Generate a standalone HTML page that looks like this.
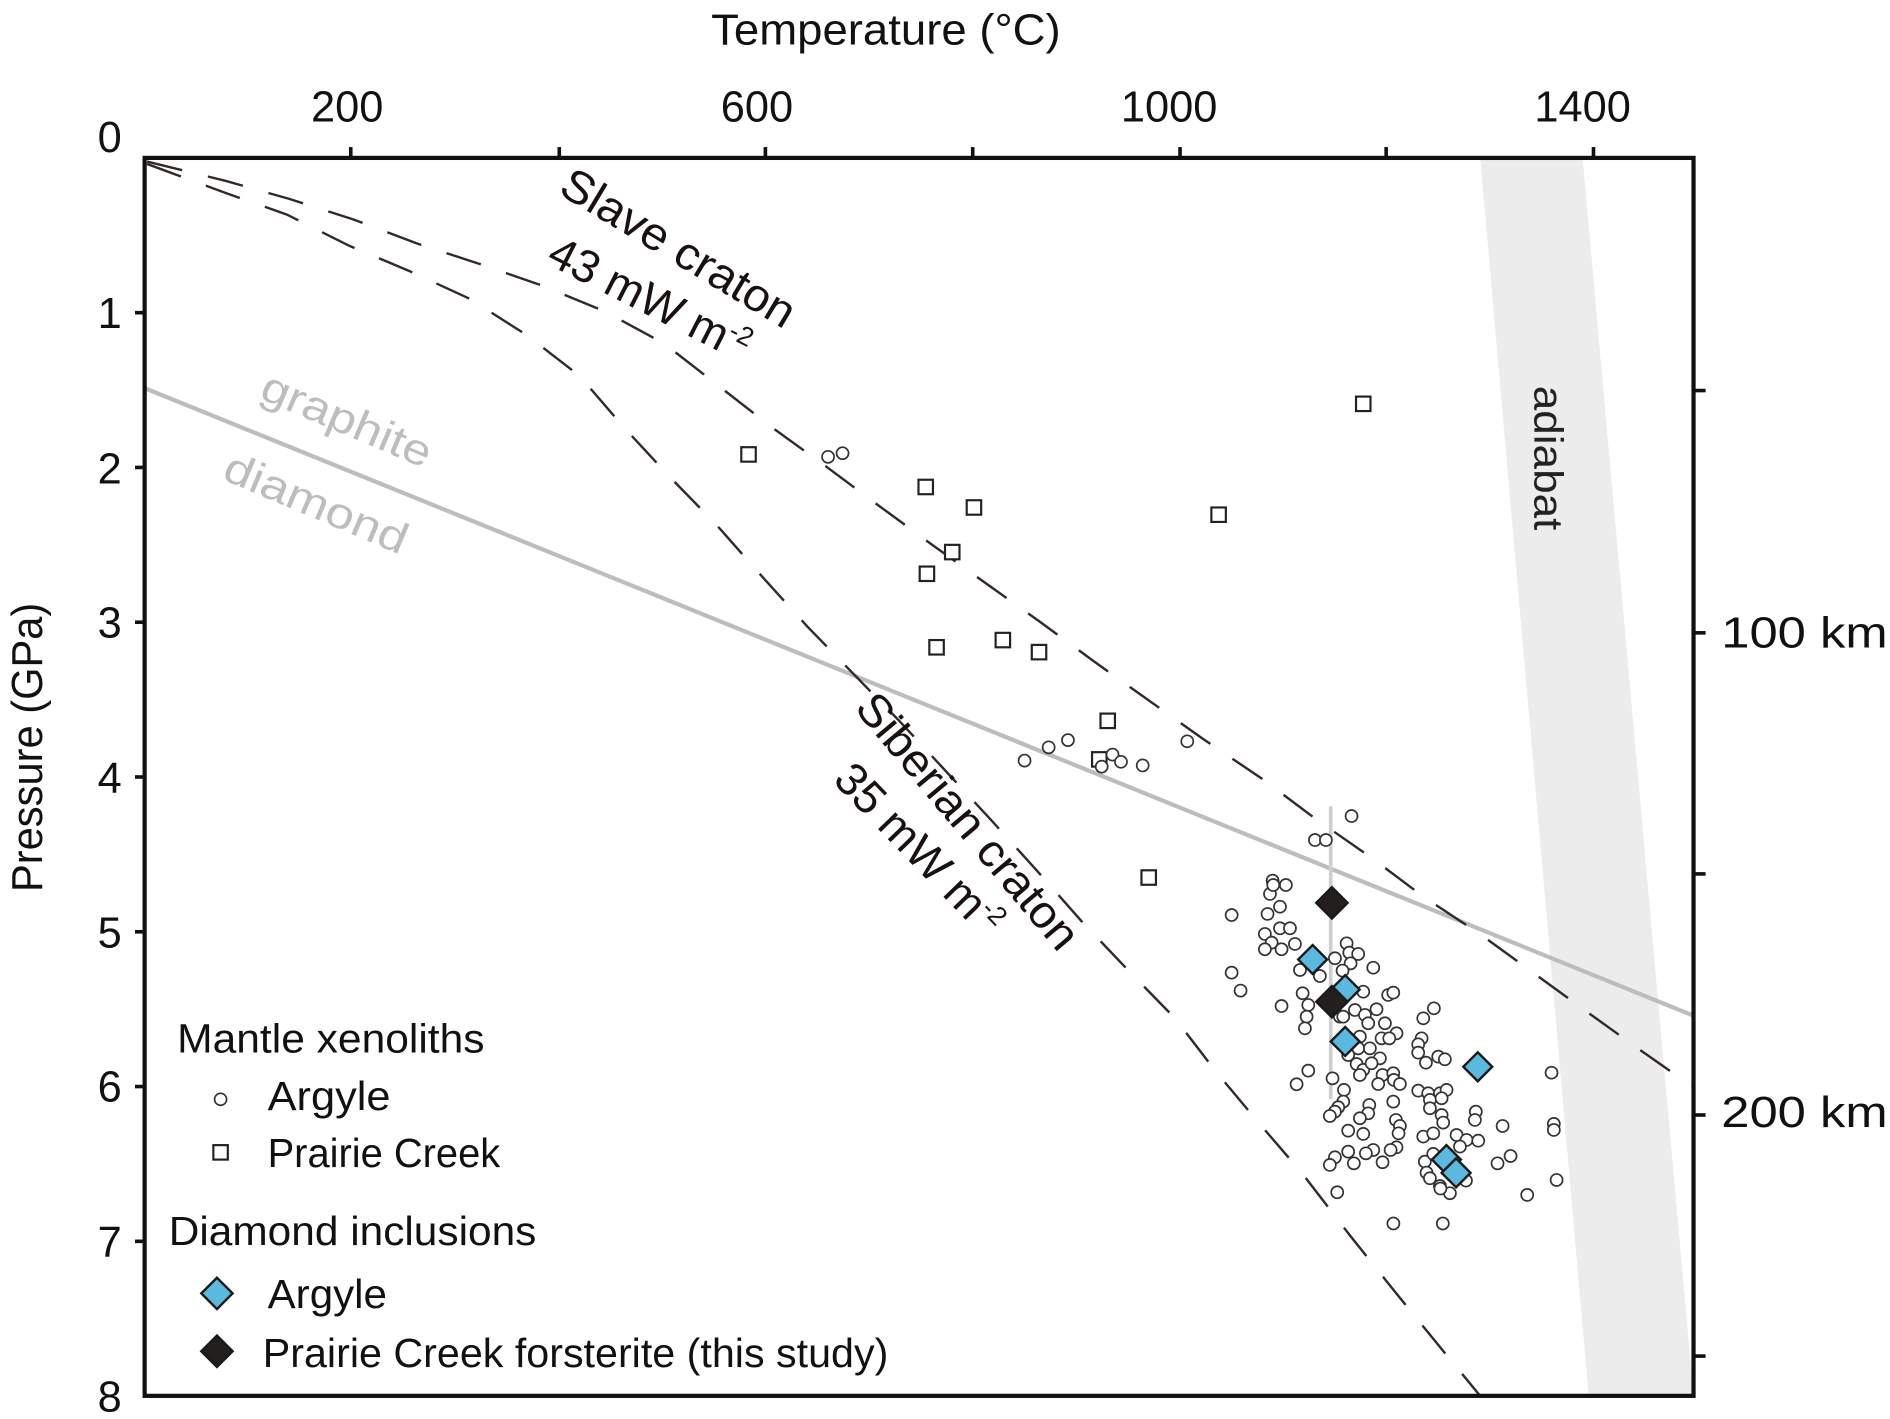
<!DOCTYPE html>
<html><head><meta charset="utf-8"><style>
html,body{margin:0;padding:0;background:#fff;}
svg{display:block;}
text{font-family:"Liberation Sans Narrow","Liberation Sans",sans-serif;}
</style></head><body>
<svg width="1890" height="1419" viewBox="0 0 1568 1177.2" preserveAspectRatio="none" xmlns="http://www.w3.org/2000/svg">
<rect x="0" y="0" width="1568" height="1178" fill="#fff"/>
<!-- adiabat band -->
<polygon points="1228,131 1313,131 1405,1158 1318,1158" fill="#ececec"/>
<text x="0" y="0" transform="translate(1273,320) rotate(90)" font-size="34" fill="#222" textLength="120" lengthAdjust="spacingAndGlyphs">adiabat</text>
<!-- graphite-diamond -->
<line x1="120" y1="322" x2="1405" y2="842.6" stroke="#bdbdbd" stroke-width="3.5"/>
<text x="0" y="0" transform="translate(214,330) rotate(23)" font-size="36" fill="#bdbdbd" textLength="150" lengthAdjust="spacingAndGlyphs">graphite</text>
<text x="0" y="0" transform="translate(183,397) rotate(23)" font-size="36" fill="#bdbdbd" textLength="162" lengthAdjust="spacingAndGlyphs">diamond</text>
<!-- dashed geotherms -->
<g fill="none" stroke="#332a28" stroke-width="2" stroke-dasharray="30 22">
<polyline points="122,134 187,150 240,165 293,182 346,202 398,219 450,237 501,258 551,285 596,320 641,355 684,386 727,418 772,451 818,484 863,516 908,549 953,581 998,613 1047,646 1091,679 1137,711 1181,744 1228,775 1272,807 1316,839 1362,872 1405,902"/>
<polyline points="122,136 187,160 238,178 290,204 340,225 390,248 437,278 481,312 518,355 556,396 594,435 632,478 670,520 708,559 746,598 784,639 822,680 860,722 898,765 936,805 975,845 1008,888 1043,930 1080,973 1120,1025 1160,1075 1200,1124 1228,1158"/>
</g>
<!-- craton labels -->
<text x="0" y="0" transform="translate(462,160) rotate(31)" font-size="38" fill="#1a1010" textLength="220" lengthAdjust="spacingAndGlyphs">Slave craton</text>
<text x="0" y="0" transform="translate(452,218) rotate(27)" font-size="38" fill="#1a1010">43 mW m<tspan font-size="22" dy="-14">-2</tspan></text>
<text x="0" y="0" transform="translate(708,588) rotate(50)" font-size="38" fill="#1a1010" textLength="265" lengthAdjust="spacingAndGlyphs">Siberian craton</text>
<text x="0" y="0" transform="translate(690,648) rotate(46)" font-size="38" fill="#1a1010">35 mW m<tspan font-size="22" dy="-14">-2</tspan></text>
<!-- error bar -->
<line x1="1104" y1="669" x2="1104" y2="912" stroke="#cfcfcf" stroke-width="3"/>
<!-- squares -->
<g fill="#fff" stroke="#222" stroke-width="1.8">
<rect x="615" y="371" width="12" height="12"/><rect x="762" y="398" width="12" height="12"/><rect x="802" y="415" width="12" height="12"/><rect x="1125" y="329" width="12" height="12"/><rect x="784" y="452" width="12" height="12"/><rect x="763" y="470" width="12" height="12"/><rect x="1005" y="421" width="12" height="12"/><rect x="771" y="531" width="12" height="12"/><rect x="826" y="525" width="12" height="12"/><rect x="856" y="535" width="12" height="12"/><rect x="913" y="592" width="12" height="12"/><rect x="906" y="624" width="12" height="12"/><rect x="947" y="722" width="12" height="12"/>
</g>
<!-- circles -->
<g fill="#fff" stroke="#333" stroke-width="1.4">
<circle cx="687" cy="379" r="5"/><circle cx="699" cy="376" r="5"/><circle cx="850" cy="631" r="5"/><circle cx="870" cy="620" r="5"/><circle cx="886" cy="614" r="5"/><circle cx="923" cy="626" r="5"/><circle cx="914" cy="636" r="5"/><circle cx="930" cy="632" r="5"/><circle cx="948" cy="635" r="5"/><circle cx="985" cy="615" r="5"/>
<circle cx="1121.3" cy="677" r="5"/><circle cx="1090.9" cy="696.9" r="5"/><circle cx="1100" cy="696.9" r="5"/><circle cx="1055.8" cy="730.6" r="5"/><circle cx="1066.8" cy="734.2" r="5"/><circle cx="1053.6" cy="741.6" r="5"/><circle cx="1061.9" cy="752.2" r="5"/><circle cx="1051.6" cy="758.2" r="5"/><circle cx="1021.8" cy="759.1" r="5"/><circle cx="1061.9" cy="770.1" r="5"/><circle cx="1070.2" cy="770.1" r="5"/><circle cx="1049.4" cy="774.8" r="5"/><circle cx="1055" cy="782" r="5"/><circle cx="1063.2" cy="787.5" r="5"/><circle cx="1049.4" cy="787.5" r="5"/><circle cx="1074.3" cy="783.1" r="5"/><circle cx="1117.2" cy="782.6" r="5"/><circle cx="1119.4" cy="790.3" r="5"/><circle cx="1126.8" cy="791.4" r="5"/><circle cx="1107.5" cy="795" r="5"/><circle cx="1139.3" cy="802.8" r="5"/><circle cx="1120.5" cy="799.2" r="5"/><circle cx="1113.8" cy="805.2" r="5"/><circle cx="1078.5" cy="804.7" r="5"/><circle cx="1095" cy="809.7" r="5"/><circle cx="1021.8" cy="806.9" r="5"/><circle cx="1029.2" cy="821.8" r="5"/><circle cx="1080.7" cy="824" r="5"/><circle cx="1131" cy="822.7" r="5"/><circle cx="1151.7" cy="825.4" r="5"/><circle cx="1155.9" cy="823.5" r="5"/><circle cx="1085.4" cy="833.7" r="5"/><circle cx="1063.2" cy="834.6" r="5"/><circle cx="1124.1" cy="837.9" r="5"/><circle cx="1142" cy="837.3" r="5"/><circle cx="1132.4" cy="842" r="5"/><circle cx="1111.6" cy="843.4" r="5"/><circle cx="1084" cy="843.4" r="5"/><circle cx="1082.6" cy="853.1" r="5"/><circle cx="1135.1" cy="848.9" r="5"/><circle cx="1149" cy="848.9" r="5"/><circle cx="1158.6" cy="857.2" r="5"/><circle cx="1146.2" cy="861.4" r="5"/><circle cx="1152.6" cy="861.4" r="5"/><circle cx="1128.2" cy="860" r="5"/><circle cx="1180.8" cy="844.8" r="5"/><circle cx="1189.6" cy="836.5" r="5"/><circle cx="1179.4" cy="861.4" r="5"/><circle cx="1176.6" cy="866.4" r="5"/><circle cx="1176.6" cy="873.3" r="5"/><circle cx="1183" cy="881.6" r="5"/><circle cx="1193.2" cy="876.6" r="5"/><circle cx="1198.7" cy="878.8" r="5"/><circle cx="1126.8" cy="869.7" r="5"/><circle cx="1136.5" cy="869.7" r="5"/><circle cx="1144.8" cy="878" r="5"/><circle cx="1118.5" cy="875.2" r="5"/><circle cx="1125.5" cy="882.7" r="5"/><circle cx="1131" cy="887.6" r="5"/><circle cx="1137.9" cy="882.1" r="5"/><circle cx="1128.2" cy="891.8" r="5"/><circle cx="1085.4" cy="888.2" r="5"/><circle cx="1075.7" cy="899.5" r="5"/><circle cx="1105.5" cy="894.6" r="5"/><circle cx="1147" cy="891.8" r="5"/><circle cx="1155.9" cy="890.4" r="5"/><circle cx="1156.4" cy="895.9" r="5"/><circle cx="1161.4" cy="899.3" r="5"/><circle cx="1143.4" cy="899.3" r="5"/><circle cx="1115" cy="904.2" r="5"/><circle cx="1176.6" cy="904.8" r="5"/><circle cx="1184.9" cy="907" r="5"/><circle cx="1194.6" cy="907" r="5"/><circle cx="1200.1" cy="904.2" r="5"/><circle cx="1186.3" cy="912.5" r="5"/><circle cx="1196" cy="911.1" r="5"/><circle cx="1114.4" cy="913.9" r="5"/><circle cx="1110.2" cy="918.6" r="5"/><circle cx="1107.5" cy="922.2" r="5"/><circle cx="1103.3" cy="925.8" r="5"/><circle cx="1136" cy="916.7" r="5"/><circle cx="1135.1" cy="923.6" r="5"/><circle cx="1128.2" cy="927.7" r="5"/><circle cx="1155.9" cy="913.9" r="5"/><circle cx="1186.3" cy="919.4" r="5"/><circle cx="1196" cy="925" r="5"/><circle cx="1197.3" cy="931.3" r="5"/><circle cx="1224.4" cy="922.2" r="5"/><circle cx="1223.6" cy="929.1" r="5"/><circle cx="1246.6" cy="934.1" r="5"/><circle cx="1287.2" cy="889.9" r="5"/><circle cx="1289.1" cy="932.4" r="5"/><circle cx="1289.1" cy="937.4" r="5"/><circle cx="1158.1" cy="929.1" r="5"/><circle cx="1161.4" cy="934.1" r="5"/><circle cx="1160.3" cy="940.2" r="5"/><circle cx="1118.5" cy="938" r="5"/><circle cx="1131" cy="940.7" r="5"/><circle cx="1180.8" cy="942.9" r="5"/><circle cx="1189.1" cy="940.2" r="5"/><circle cx="1208.4" cy="941.6" r="5"/><circle cx="1216.7" cy="945.7" r="5"/><circle cx="1226.4" cy="946.3" r="5"/><circle cx="1211.2" cy="951.2" r="5"/><circle cx="1158.6" cy="951.8" r="5"/><circle cx="1153.7" cy="954" r="5"/><circle cx="1139.3" cy="954" r="5"/><circle cx="1133.2" cy="956.8" r="5"/><circle cx="1118.5" cy="955.4" r="5"/><circle cx="1107.5" cy="960.1" r="5"/><circle cx="1103.3" cy="966.4" r="5"/><circle cx="1123.2" cy="965.1" r="5"/><circle cx="1147" cy="964.2" r="5"/><circle cx="1182.1" cy="963.7" r="5"/><circle cx="1189.1" cy="957.3" r="5"/><circle cx="1183.5" cy="972.8" r="5"/><circle cx="1186.3" cy="977.5" r="5"/><circle cx="1194.6" cy="983.9" r="5"/><circle cx="1202.9" cy="989.9" r="5"/><circle cx="1216.2" cy="979.4" r="5"/><circle cx="1242.4" cy="965.1" r="5"/><circle cx="1253.2" cy="959" r="5"/><circle cx="1291.4" cy="978.9" r="5"/><circle cx="1267" cy="991.3" r="5"/><circle cx="1109.4" cy="989.1" r="5"/><circle cx="1056.3" cy="734.2" r="5"/><circle cx="1114.4" cy="843.4" r="5"/><circle cx="1156" cy="1015" r="5"/><circle cx="1195" cy="986" r="5"/><circle cx="1197" cy="1015" r="5"/>
</g>
<!-- diamonds -->
<g stroke="#1a1a1a" stroke-width="2">
<polygon points="1089,784 1101,796 1089,808 1077,796" fill="#5bb8df"/>
<polygon points="1116,809 1128,821 1116,833 1104,821" fill="#5bb8df"/>
<polygon points="1116,852 1128,864 1116,876 1104,864" fill="#5bb8df"/>
<polygon points="1226,873 1238,885 1226,897 1214,885" fill="#5bb8df"/>
<polygon points="1200,950 1212,962 1200,974 1188,962" fill="#5bb8df"/>
<polygon points="1208,961 1220,973 1208,985 1196,973" fill="#5bb8df"/>
<polygon points="1105,736 1118,749 1105,762 1092,749" fill="#231f1e"/>
<polygon points="1105,818 1118,831 1105,844 1092,831" fill="#231f1e"/>
</g>
<!-- axes frame -->
<rect x="120" y="131" width="1285" height="1027" fill="none" stroke="#111" stroke-width="3.5"/>
<g stroke="#111" stroke-width="3">
<line x1="291" y1="131" x2="291" y2="122"/><line x1="464" y1="131" x2="464" y2="122"/><line x1="635" y1="131" x2="635" y2="122"/><line x1="807" y1="131" x2="807" y2="122"/><line x1="979" y1="131" x2="979" y2="122"/><line x1="1150" y1="131" x2="1150" y2="122"/><line x1="1322" y1="131" x2="1322" y2="122"/>
<line x1="112" y1="259.4" x2="120" y2="259.4"/><line x1="112" y1="387.8" x2="120" y2="387.8"/><line x1="112" y1="516.2" x2="120" y2="516.2"/><line x1="112" y1="644.6" x2="120" y2="644.6"/><line x1="112" y1="773" x2="120" y2="773"/><line x1="112" y1="901.4" x2="120" y2="901.4"/><line x1="112" y1="1029.8" x2="120" y2="1029.8"/>
<line x1="1405" y1="324" x2="1415" y2="324"/><line x1="1405" y1="525" x2="1415" y2="525"/><line x1="1405" y1="725" x2="1415" y2="725"/><line x1="1405" y1="925" x2="1415" y2="925"/><line x1="1405" y1="1125" x2="1415" y2="1125"/>
</g>
<!-- axis labels -->
<g font-size="36" fill="#111">
<text x="735" y="37" text-anchor="middle" textLength="290" lengthAdjust="spacingAndGlyphs">Temperature (°C)</text>
<text x="288" y="101" text-anchor="middle">200</text>
<text x="628" y="101" text-anchor="middle">600</text>
<text x="970" y="101" text-anchor="middle">1000</text>
<text x="1313" y="101" text-anchor="middle">1400</text>
<g text-anchor="middle">
<text x="91" y="126">0</text><text x="91" y="272">1</text><text x="91" y="401">2</text><text x="91" y="529">3</text><text x="91" y="658">4</text><text x="91" y="786">5</text><text x="91" y="914">6</text><text x="91" y="1043">7</text><text x="91" y="1171">8</text>
</g>
<text x="0" y="0" transform="translate(35,740) rotate(-90)" textLength="240" lengthAdjust="spacingAndGlyphs">Pressure (GPa)</text>
<text x="1428" y="537" textLength="138" lengthAdjust="spacingAndGlyphs">100 km</text>
<text x="1428" y="935" textLength="138" lengthAdjust="spacingAndGlyphs">200 km</text>
</g>
<!-- legend -->
<g font-size="34" fill="#111">
<text x="147" y="873" textLength="255" lengthAdjust="spacingAndGlyphs">Mantle xenoliths</text>
<text x="222" y="921" textLength="102" lengthAdjust="spacingAndGlyphs">Argyle</text>
<text x="222" y="968" textLength="193" lengthAdjust="spacingAndGlyphs">Prairie Creek</text>
<text x="140" y="1033" textLength="305" lengthAdjust="spacingAndGlyphs">Diamond inclusions</text>
<text x="222" y="1085" textLength="99" lengthAdjust="spacingAndGlyphs">Argyle</text>
<text x="218" y="1134" textLength="519" lengthAdjust="spacingAndGlyphs">Prairie Creek forsterite (this study)</text>
</g>
<circle cx="183" cy="912" r="5" fill="#fff" stroke="#333" stroke-width="1.4"/>
<rect x="177" y="950" width="12" height="12" fill="#fff" stroke="#222" stroke-width="1.8"/>
<polygon points="180,1060 193,1073 180,1086 167,1073" fill="#5bb8df" stroke="#1a1a1a" stroke-width="2"/>
<polygon points="180,1108 193,1121 180,1134 167,1121" fill="#231f1e" stroke="#1a1a1a" stroke-width="2"/>
</svg>
</body></html>
